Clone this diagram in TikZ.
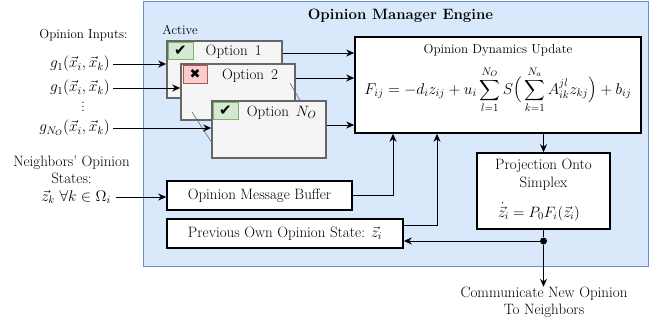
\RequirePackage{fix-cm}
\documentclass[tikz,border=0pt]{standalone}
\usepackage{amsmath}
\usepackage{fontspec}
\newfontfamily\dvs{DejaVu Sans}
\usetikzlibrary{arrows.meta}
\definecolor{blueF}{HTML}{DAE8FC}
\definecolor{blueD}{HTML}{6C8EBF}
\definecolor{greyF}{HTML}{F5F5F5}
\definecolor{greyD}{HTML}{666666}
\definecolor{greenF}{HTML}{D5E8D4}
\definecolor{greenD}{HTML}{82B366}
\definecolor{redF}{HTML}{F8CECC}
\definecolor{redD}{HTML}{B85450}
\begin{document}
\begin{tikzpicture}[x=1pt,y=-1pt,
  font=\fontsize{15}{17.5}\selectfont,
  small/.style={font=\fontsize{13}{15}\selectfont},
  mathl/.style={font=\fontsize{15.5}{18}\selectfont},
  box/.style={draw, line width=1.6pt, fill=white, inner sep=0pt},
  optbox/.style={draw=greyD, fill=greyF, line width=1.6pt, inner sep=0pt},
  chkG/.style={draw=greenD, fill=greenF, line width=1pt, inner sep=0pt, minimum width=25pt, minimum height=17pt, font=\dvs\fontsize{15}{15}\selectfont},
  chkR/.style={draw=redD, fill=redF, line width=1pt, inner sep=0pt, minimum width=24pt, minimum height=18pt, font=\dvs\fontsize{13}{13}\selectfont},
  arr/.style={-{Stealth[length=8pt,width=7pt]}, line width=0.9pt},
  txt/.style={inner sep=0pt, align=center},
  diag/.style={draw=greyD, line width=0.6pt}]
\useasboundingbox (0,0) rectangle (649,322);
% engine background
\node[draw=blueD, fill=blueF, line width=1pt, minimum width=505pt, minimum height=265pt, inner sep=0pt, anchor=north west] (eng) at (143,1) {};
\node[txt, font=\fontsize{15}{17.5}\selectfont\bfseries] (title) at (400.5,15.5) {Opinion Manager Engine};
\node[txt, small] (act) at (180,30) {Active};
% options
\node[optbox, minimum width=115pt, minimum height=57pt] (o1) at (224.5,69.5) {};
\node[chkG] (c1) at (180.5,50.5) {✔};
\node[txt] (t1) at (233.7,51.5) {Option~\,1};
\node[optbox, minimum width=114pt, minimum height=56pt] (o2) at (238,92) {};
\node[chkR] (c2) at (195,74) {✖};
\node[txt] (t2) at (250,75.5) {Option~\,2};
\draw[diag] (192,112) -- (212,143);
\draw[diag] (290,83) -- (301,102);
\node[optbox, minimum width=114pt, minimum height=57pt] (oN) at (269,129.5) {};
\node[chkG] (c3) at (225.5,110.5) {✔};
\node[txt] (t3) at (281.7,112.5) {Option~\,$N_O$};
% dynamics
\node[box, minimum width=286pt, minimum height=96pt] (dyn) at (498,85) {};
\node[txt, small] (dynt) at (498,50.5) {Opinion Dynamics Update};
\node[txt, anchor=base, font=\fontsize{15.6}{18}\selectfont] (dynf) at (498,94) {$\displaystyle F_{ij} = -d_i z_{ij} + u_i \sum_{l=1}^{N_O} S\Big(\sum_{k=1}^{N_a} A_{ik}^{jl} z_{kj}\Big) + b_{ij}$};
% projection
\node[box, minimum width=133pt, minimum height=76pt] (proj) at (543.5,191) {};
\node[txt] (projt) at (543.5,174.5) {Projection Onto\\Simplex};
\node[txt] (projf) at (539,212) {$\dot{\vec{z}}_i = P_0 F_i(\vec{z}_i)$};
% buffers
\node[box, minimum width=185pt, minimum height=29pt] (buf) at (259.5,195.5) {Opinion Message Buffer};
\node[box, minimum width=236pt, minimum height=29pt] (prev) at (285,233.5) {Previous Own Opinion State: $\vec{z}_i$};
\node[circle, fill, inner sep=0pt, minimum size=7pt] (dot) at (543.5,241) {};
% left labels
\node[txt, small] (oi) at (83.5,35) {Opinion Inputs:};
\node[txt, mathl, anchor=east] (g1) at (110,64) {$g_1(\vec{x}_i,\vec{x}_k)$};
\node[txt, mathl, anchor=east] (g2) at (110,88) {$g_1(\vec{x}_i,\vec{x}_k)$};
\node[txt, mathl] (vd) at (83,104) {$\vdots$};
\node[txt, mathl, anchor=east] (gN) at (110,128) {$g_{N_O}(\vec{x}_i,\vec{x}_k)$};
\node[txt] (nbt) at (71.5,170) {Neighbors' Opinion\\States:};
\node[txt, mathl, anchor=east] (zk) at (111,197) {$\vec{z}_k\ \forall k\in\Omega_i$};
\node[txt] (comm) at (544,302.5) {Communicate New Opinion\\To Neighbors};
% connectors
\draw[arr] ([xshift=3pt]g1.east) -- (g1 -| o1.west);
\draw[arr] ([xshift=3pt]g2.east) -- (g2 -| o2.west);
\draw[arr] ([xshift=3pt]gN.east) -- (gN -| oN.west);
\draw[arr] ([xshift=5pt]zk.east) -- (zk -| buf.west);
\draw[arr] ([yshift=16.5pt]o1.east) -- ([yshift=16.5pt]o1.east -| dyn.west);
\draw[arr] ([yshift=14pt]o2.east) -- ([yshift=14pt]o2.east -| dyn.west);
\draw[arr] ([yshift=4.5pt]oN.east) -- ([yshift=4.5pt]oN.east -| dyn.west);
\draw[arr] (buf.east) -| ([xshift=-105pt]dyn.south);
\draw[arr] ([yshift=8.5pt]prev.east) -| ([xshift=-61pt]dyn.south);
\draw[arr] (proj.north |- dyn.south) -- (proj.north);
\draw[line width=0.9pt] (proj.south) -- (dot);
\draw[arr] (dot) -- (dot -| prev.east);
\draw[arr] (dot) -- (dot |- comm.north);
\end{tikzpicture}
\end{document}
